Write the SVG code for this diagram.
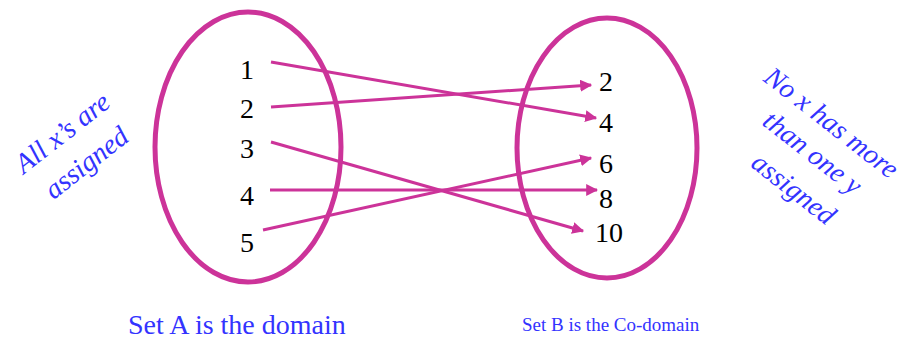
<svg xmlns="http://www.w3.org/2000/svg" width="915" height="340" viewBox="0 0 915 340">
<style>
.set{fill:none;stroke:#CC3399;stroke-width:5}
.map{stroke:#CC3399;stroke-width:3;fill:none}
.num{font-size:28px;fill:#000;text-anchor:middle}
.note{font-style:italic;font-size:28px;fill:#3333FF;text-anchor:middle}
.cap{fill:#3333FF}
</style>
<defs>
<marker id="ah" viewBox="0 0 10 10" refX="9" refY="5" markerWidth="4" markerHeight="4" markerUnits="strokeWidth" orient="auto">
<path d="M0,0 L10,5 L0,10 z" fill="#CC3399"/>
</marker>
</defs>
<g font-family="'Liberation Serif', 'Times New Roman', Times, serif">
<g id="setA">
<ellipse class="set" cx="248" cy="147" rx="93" ry="135"/>
<text class="num" x="247" y="79">1</text>
<text class="num" x="247" y="118">2</text>
<text class="num" x="247" y="158">3</text>
<text class="num" x="247" y="205">4</text>
<text class="num" x="247" y="252">5</text>
</g>
<g id="setB">
<ellipse class="set" cx="607" cy="148" rx="90" ry="130"/>
<text class="num" x="606" y="91">2</text>
<text class="num" x="606" y="132">4</text>
<text class="num" x="606" y="173">6</text>
<text class="num" x="606" y="208">8</text>
<text class="num" x="609" y="242">10</text>
</g>
<g id="connectors">
<line class="map" x1="271" y1="62" x2="596" y2="118" marker-end="url(#ah)"/>
<line class="map" x1="271" y1="107" x2="591" y2="85" marker-end="url(#ah)"/>
<line class="map" x1="271" y1="142" x2="583" y2="231" marker-end="url(#ah)"/>
<line class="map" x1="270" y1="190" x2="597" y2="190" marker-end="url(#ah)"/>
<line class="map" x1="263" y1="230" x2="591" y2="158" marker-end="url(#ah)"/>
</g>
<g id="leftNote">
<text class="note" transform="translate(68,140) rotate(-38)">All x’s are</text>
<text class="note" transform="translate(92,170) rotate(-38)">assigned</text>
</g>
<g id="rightNote">
<text class="note" transform="translate(826,130) rotate(38)">No x has more</text>
<text class="note" transform="translate(807,160) rotate(38)">than one y</text>
<text class="note" transform="translate(788,196) rotate(38)">assigned</text>
</g>
<g id="captions">
<text class="cap" x="128" y="334" font-size="28">Set A is the domain</text>
<text class="cap" x="522" y="331" font-size="19">Set B is the Co-domain</text>
</g>
</g>
</svg>
